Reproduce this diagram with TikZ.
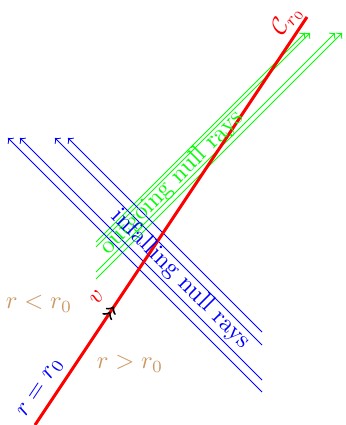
\documentclass[tikz,border=0pt]{standalone}
\usetikzlibrary{decorations.markings}
\begin{document}
\begin{tikzpicture}[x=0.408pt,y=-0.408pt,
  ray/.style={->, line width=0.4pt},
  lbl/.style={inner sep=1pt}]
\useasboundingbox (0,0) rectangle (345,425);
% outgoing rays (green)
\coordinate (g1s) at (96,242); \coordinate (g1e) at (305,33);
\coordinate (g2s) at (96,247); \coordinate (g2e) at (310,33);
\coordinate (g3s) at (96,272); \coordinate (g3e) at (335,33);
\coordinate (g4s) at (96,279); \coordinate (g4e) at (342,33);
\draw[ray,green] (g1s) -- (g1e);
\draw[ray,green] (g2s) -- (g2e);
\draw[ray,green] (g3s) -- (g3e);
\draw[ray,green] (g4s) -- (g4e);
% infalling rays (blue)
\coordinate (b1s) at (262,392); \coordinate (b1e) at (8,138);
\coordinate (b2s) at (262,380); \coordinate (b2e) at (20,138);
\coordinate (b3s) at (262,345); \coordinate (b3e) at (55,138);
\coordinate (b4s) at (262,332); \coordinate (b4e) at (68,138);
\draw[ray,blue] (b1s) -- (b1e);
\draw[ray,blue] (b2s) -- (b2e);
\draw[ray,blue] (b3s) -- (b3e);
\draw[ray,blue] (b4s) -- (b4e);
% worldline
\coordinate (rs) at (35,425); \coordinate (re) at (307,17);
\draw[red, line width=1.2pt,
  decoration={markings, mark=at position 0.29 with {\arrow[black,line width=0.8pt]{>>}}},
  postaction=decorate] (rs) -- (re);
% labels
\node[lbl, red, rotate=56.3] (C) at (287,20) {$\mathcal{C}_{r_0}$};
\node[lbl, red, rotate=56.3] (v) at (97,297) {$v$};
\node[lbl, blue, rotate=56.3] (req) at (41,388) {$r=r_0$};
\node[lbl, brown!80] (rlt) at (39,304) {$r<r_0$};
\node[lbl, brown!80] (rgt) at (130,364) {$r>r_0$};
\node[lbl, green, rotate=45] (out) at (172,183) {outgoing null rays};
\node[lbl, blue, rotate=-45] (inf) at (181,279) {infalling null rays};
\end{tikzpicture}
\end{document}
